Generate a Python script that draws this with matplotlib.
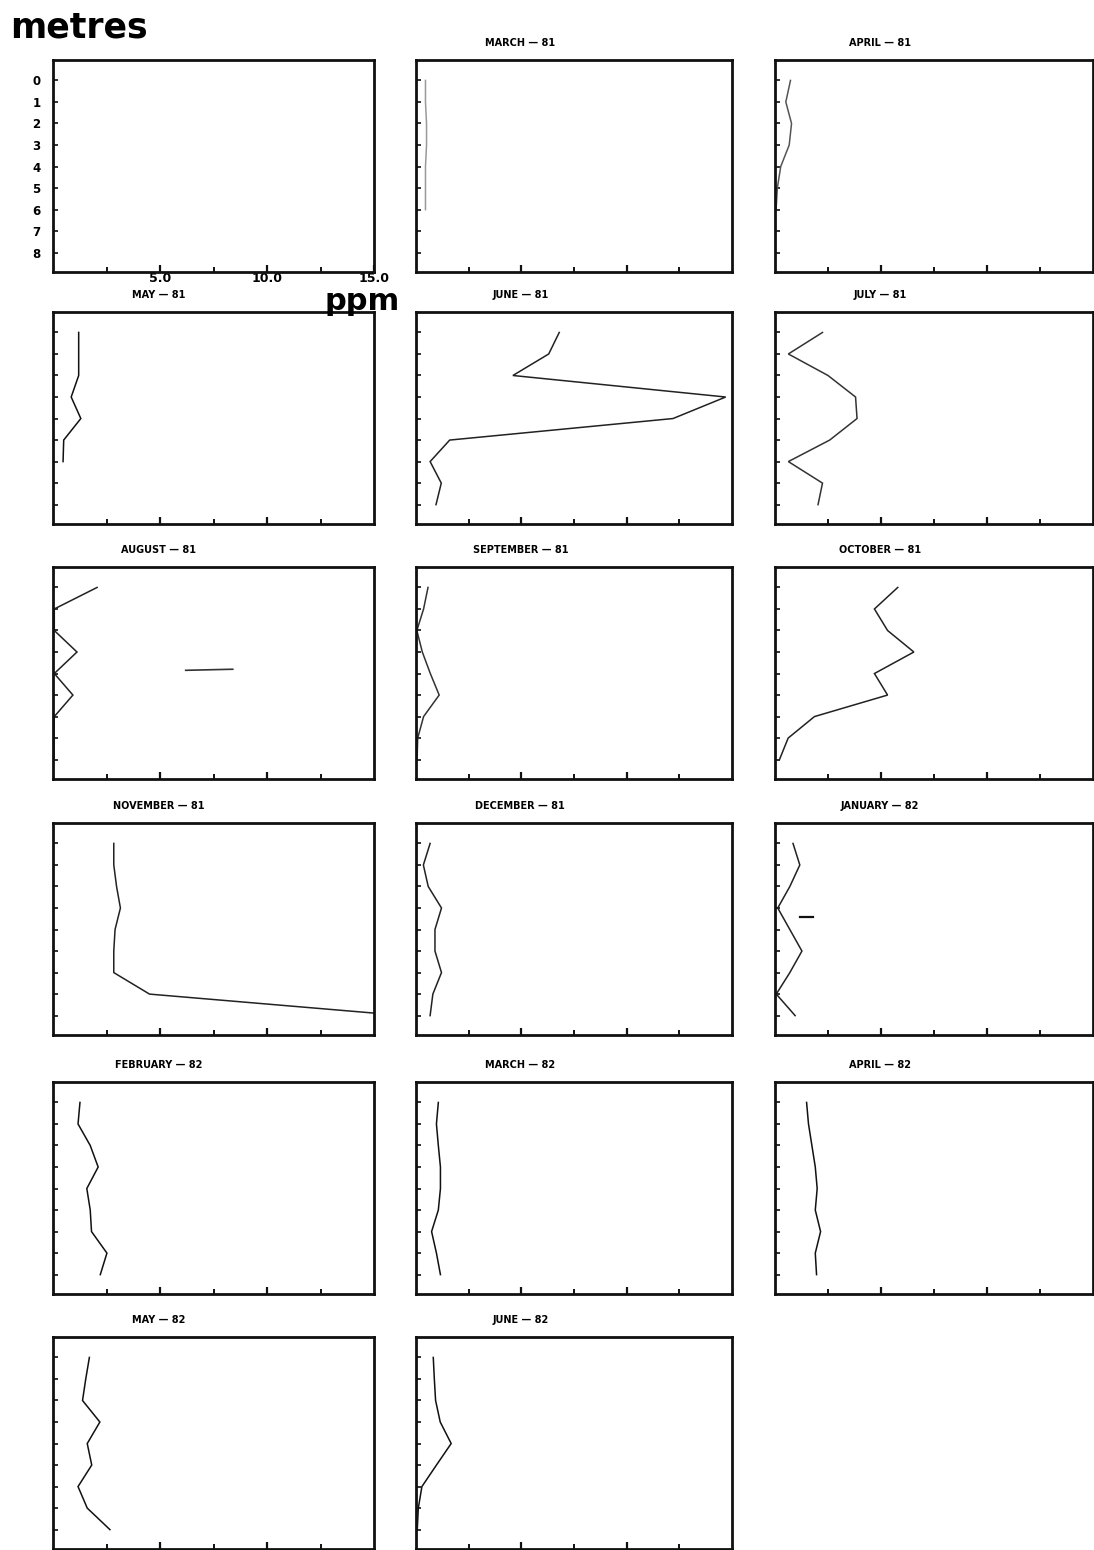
import numpy as np
from matplotlib import pyplot as plt
from matplotlib.ticker import FixedLocator

W, H = 1094, 1550

# depth below surface (m) of each sample
depth = [0, 1, 2, 3, 4, 5, 6, 7, 8]
depth_short = [0, 1, 2, 3, 4, 5, 6]

# concentration profiles (ppm), one per monthly survey
mar81 = [0.45, 0.45, 0.5, 0.5, 0.45, 0.45, 0.45]
apr81 = [0.73, 0.51, 0.78, 0.67, 0.27, 0.11, 0.05]
may81 = [1.2, 1.2, 1.2, 0.85, 1.3, 0.5, 0.47]
jun81 = [6.8, 6.3, 4.6, 14.7, 12.2, 1.6, 0.67, 1.2, 0.95]
jul81 = [2.24, 0.63, 2.5, 3.8, 3.87, 2.58, 0.63, 2.24, 2.03]
aug81 = [2.06, 0.06, 0.06, 1.12, 0.06, 0.93, 0.06, 0.05, 0.05]
sep81 = [0.57, 0.36, 0.04, 0.3, 0.68, 1.1, 0.36, 0.08, 0.05]
oct81 = [5.79, 4.69, 5.31, 6.55, 4.69, 5.31, 1.86, 0.62, 0.21]
nov81 = [2.84, 2.84, 2.97, 3.15, 2.9, 2.84, 2.84, 4.51, 16.4]
dec81 = [0.67, 0.35, 0.58, 1.21, 0.9, 0.9, 1.21, 0.8, 0.67]
jan82 = [0.85, 1.17, 0.7, 0.13, 0.7, 1.27, 0.7, 0.06, 0.95]
feb82 = [1.26, 1.17, 1.74, 2.11, 1.58, 1.74, 1.8, 2.52, 2.21]
mar82 = [1.06, 0.97, 1.06, 1.16, 1.16, 1.06, 0.74, 0.97, 1.16]
apr82 = [1.49, 1.58, 1.74, 1.9, 1.99, 1.9, 2.15, 1.9, 1.96]
may82 = [1.7, 1.53, 1.38, 2.19, 1.6, 1.81, 1.17, 1.6, 2.66]
jun82 = [0.82, 0.87, 0.93, 1.15, 1.67, 0.97, 0.28, 0.11, 0.06]

# stray short strokes on the august and january sheets
aug81_stroke_x = [6.2, 8.4]
aug81_stroke_d = [3.85, 3.8]
jan82_stroke_x = [1.2, 1.8]
jan82_stroke_d = [3.4, 3.4]

panels = [
    ("MARCH — 81", depth_short, mar81, "#9a9a9a"),
    ("APRIL — 81", depth_short, apr81, "#555555"),
    ("MAY — 81", depth_short, may81, "#111111"),
    ("JUNE — 81", depth, jun81, "#222222"),
    ("JULY — 81", depth, jul81, "#333333"),
    ("AUGUST — 81", depth, aug81, "#222222"),
    ("SEPTEMBER — 81", depth, sep81, "#333333"),
    ("OCTOBER — 81", depth, oct81, "#222222"),
    ("NOVEMBER — 81", depth, nov81, "#222222"),
    ("DECEMBER — 81", depth, dec81, "#222222"),
    ("JANUARY — 82", depth, jan82, "#222222"),
    ("FEBRUARY — 82", depth, feb82, "#111111"),
    ("MARCH — 82", depth, mar82, "#111111"),
    ("APRIL — 82", depth, apr82, "#111111"),
    ("MAY — 82", depth, may82, "#111111"),
    ("JUNE — 82", depth, jun82, "#111111"),
]

col_left = [53, 416, 775]
col_width = [321, 316, 318]
row_top = [60, 312, 567, 823, 1082, 1337]
row_h = 212

plt.rcParams["font.family"] = ["DejaVu Sans"]

fig = plt.figure(figsize=(W / 100, H / 100), dpi=100)


def px_axes(x0, y0, w, h):
    return fig.add_axes([x0 / W, 1 - (y0 + h) / H, w / W, h / H])


def frame(ax):
    ax.set_xlim(0, 15)
    ax.set_ylim(8.9, -0.95)
    for s in ax.spines.values():
        s.set_linewidth(2.0)
        s.set_color("#111111")
    ax.xaxis.set_major_locator(FixedLocator([5, 10]))
    ax.xaxis.set_minor_locator(FixedLocator([2.5, 7.5, 12.5]))
    ax.yaxis.set_major_locator(FixedLocator(depth))
    ax.yaxis.set_minor_locator(FixedLocator([]))
    ax.tick_params(axis="x", which="major", direction="in", length=5,
                   width=1.6, color="#111111", labelbottom=False)
    ax.tick_params(axis="x", which="minor", direction="in", length=3.5,
                   width=1.4, color="#111111")
    ax.tick_params(axis="y", direction="in", length=3.5, width=1.2,
                   color="#111111", labelleft=False)


slots = [(r, c) for r in range(6) for c in range(3)][:17]

# key panel: scales only
r, c = slots[0]
ax0 = px_axes(col_left[c], row_top[r], col_width[c], row_h)
frame(ax0)
ax0.xaxis.set_major_locator(FixedLocator([5, 10, 15]))
ax0.set_xticklabels(["5.0", "10.0", "15.0"], fontsize=9, fontweight="heavy")
ax0.tick_params(axis="x", which="major", labelbottom=True, pad=0)
ax0.set_yticklabels([str(d) for d in depth], fontsize=8.5, fontweight="heavy")
ax0.tick_params(axis="y", labelleft=True, pad=9)

for (title, d, vals, col), (r, c) in zip(panels, slots[1:]):
    ax = px_axes(col_left[c], row_top[r], col_width[c], row_h)
    frame(ax)
    ax.plot(vals, d, color=col, lw=1.1, solid_joinstyle="miter")
    ax.text(0.33, 1 + 17 / row_h, title, transform=ax.transAxes,
            ha="center", va="center", fontsize=7, fontweight="heavy")
    if title == "AUGUST — 81":
        ax.plot(aug81_stroke_x, aug81_stroke_d, color="#333333", lw=1.2)
    if title == "JANUARY — 82":
        ax.plot(jan82_stroke_x, jan82_stroke_d, color="#111111", lw=1.6)

fig.text(10 / W, 1 - 28 / H, "metres", fontsize=25, fontweight="heavy",
         ha="left", va="center")
fig.text(362 / W, 1 - 302 / H, "ppm", fontsize=22, fontweight="heavy",
         ha="center", va="center")

fig.savefig("out.png", dpi=100, facecolor="white")
